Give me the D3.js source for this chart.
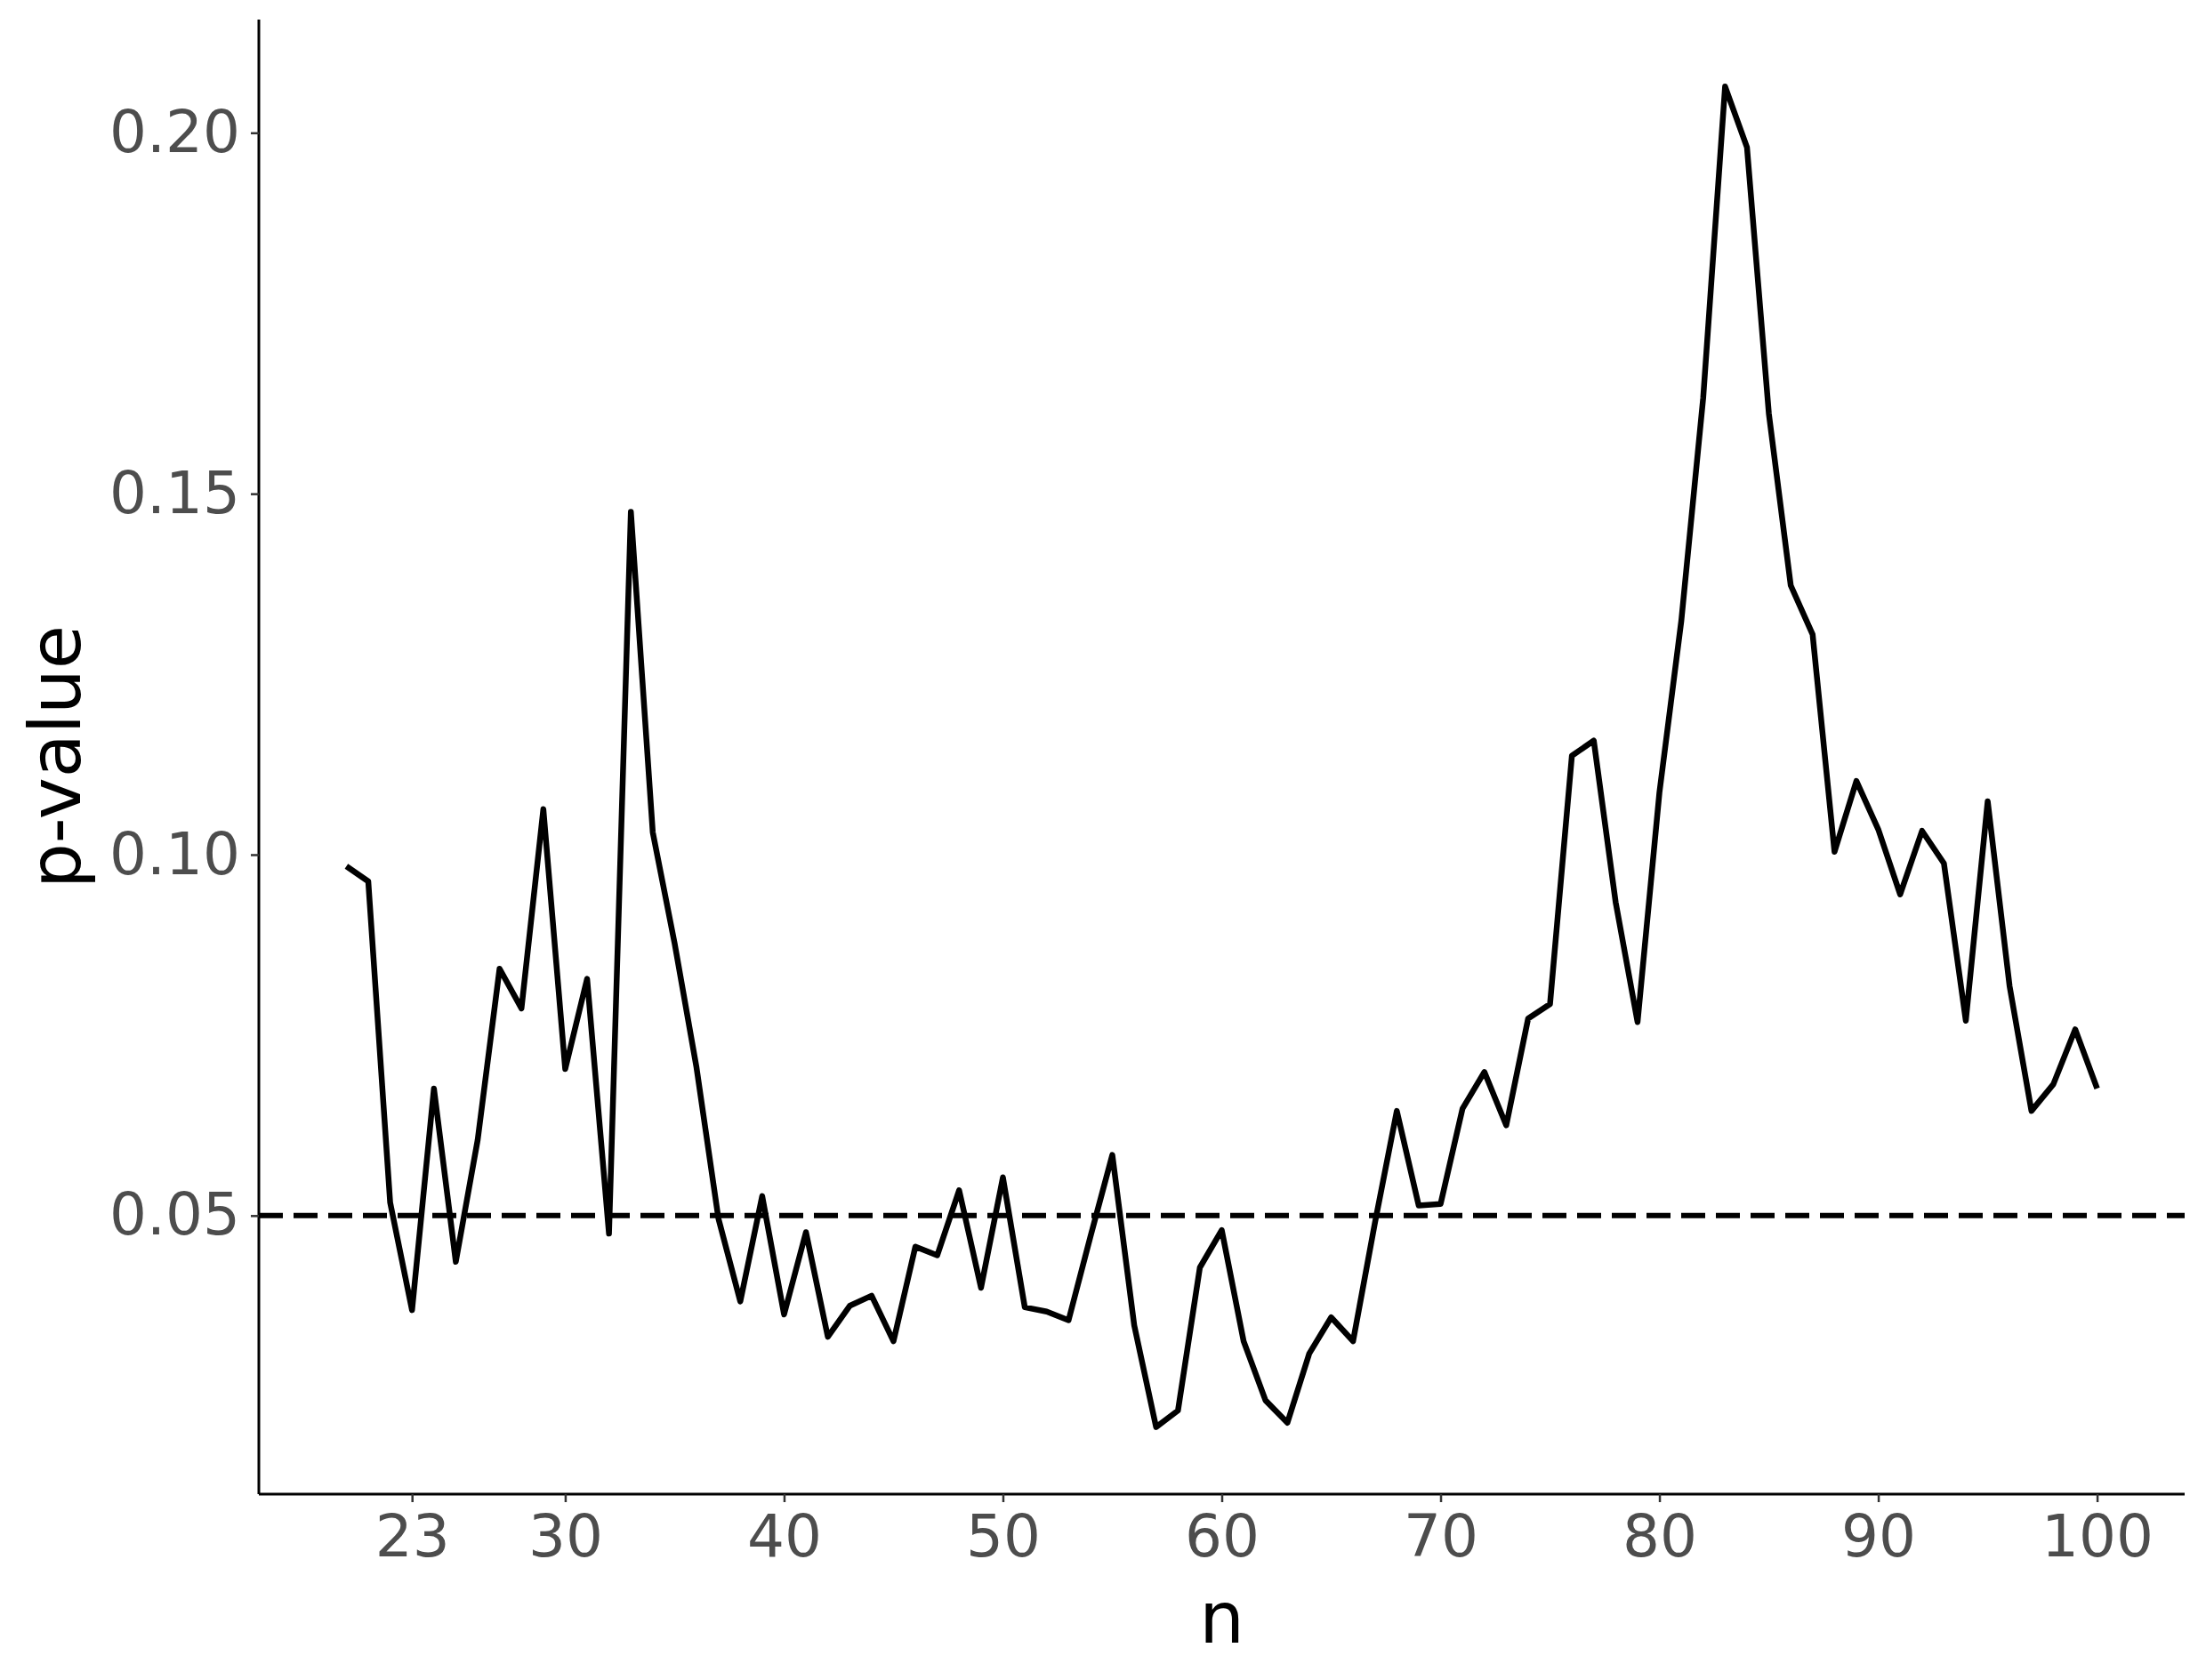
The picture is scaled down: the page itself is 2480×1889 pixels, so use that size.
<!DOCTYPE html>
<html>
<head>
<meta charset="utf-8">
<script src="https://cdn.jsdelivr.net/npm/d3@7"></script>
<style>
  html, body { margin: 0; padding: 0; background: #ffffff; }
  svg { display: block; }
  text { font-family: "DejaVu Sans", sans-serif; }
</style>
</head>
<body>
<svg id="chart" width="2480" height="1889"></svg>
<script>
// ---- Data ----
const nValues = d3.range(20, 101);
const pValues = [
  0.0984, 0.0963, 0.0518, 0.0369, 0.0676, 0.0436, 0.0605, 0.0842, 0.0787, 0.1063,
  0.0703, 0.0828, 0.0475, 0.1475, 0.1031, 0.0877, 0.0705, 0.0496, 0.0381, 0.0527,
  0.0363, 0.0477, 0.0332, 0.0375, 0.0389, 0.0326, 0.0457, 0.0445, 0.0535, 0.0400,
  0.0553, 0.0373, 0.0367, 0.0355, 0.0471, 0.0584, 0.0348, 0.0207, 0.0230, 0.0428,
  0.0480, 0.0326, 0.0244, 0.0213, 0.0309, 0.0359, 0.0326, 0.0490, 0.0645, 0.0514,
  0.0516, 0.0648, 0.0699, 0.0625, 0.0773, 0.0793, 0.1137, 0.1158, 0.0934, 0.0768,
  0.1086, 0.1324, 0.1633, 0.2064, 0.1980, 0.1611, 0.1373, 0.1305, 0.1004, 0.1102,
  0.1035, 0.0945, 0.1033, 0.0988, 0.0770, 0.1074, 0.0818, 0.0645, 0.0682, 0.0758,
  0.0676
];
const xTicks = [23, 30, 40, 50, 60, 70, 80, 90, 100];
const yTicks = [0.05, 0.10, 0.15, 0.20];
const threshold = 0.05;
const xTitle = "n";
const yTitle = "p-value";

// ---- Layout ----
const W = 2480, H = 1889;
const margin = { left: 291, right: 24, top: 22, bottom: 209 };
const plotW = W - margin.left - margin.right;
const plotH = H - margin.top - margin.bottom;

const data = nValues.map((n, i) => ({ n, p: pValues[i] }));

function padded(ext) {
  const r = ext[1] - ext[0];
  return [ext[0] - r * 0.05, ext[1] + r * 0.05];
}

const x = d3.scaleLinear()
  .domain(padded(d3.extent(nValues)))
  .range([margin.left, margin.left + plotW]);
const y = d3.scaleLinear()
  .domain(padded(d3.extent(pValues)))
  .range([margin.top + plotH, margin.top]);

const svg = d3.select("#chart");

// threshold dashed line
svg.append("line")
  .attr("x1", margin.left).attr("x2", margin.left + plotW)
  .attr("y1", y(threshold)).attr("y2", y(threshold))
  .attr("stroke", "#000").attr("stroke-width", 6)
  .attr("stroke-dasharray", "27,12");

// data line
const line = d3.line().x(d => x(d.n)).y(d => y(d.p));
svg.append("path")
  .datum(data)
  .attr("d", line)
  .attr("fill", "none")
  .attr("stroke", "#000")
  .attr("stroke-width", 6.5)
  .attr("stroke-linejoin", "round")
  .attr("stroke-linecap", "butt");

// x axis
const xAxis = svg.append("g")
  .attr("transform", `translate(0,${margin.top + plotH})`)
  .call(d3.axisBottom(x).tickValues(xTicks).tickSize(9).tickPadding(14).tickSizeOuter(0));
xAxis.select(".domain").attr("stroke-width", 3).attr("d", `M${margin.left},0H${margin.left + plotW}`);
xAxis.selectAll(".tick line").attr("stroke", "#333333").attr("stroke-width", 2.5);
xAxis.selectAll(".tick text")
  .attr("fill", "#4D4D4D").attr("font-size", 66).attr("font-family", "DejaVu Sans");

// y axis
const yAxis = svg.append("g")
  .attr("transform", `translate(${margin.left},0)`)
  .call(d3.axisLeft(y).tickValues(yTicks).tickFormat(d3.format(".2f")).tickSize(9).tickPadding(12).tickSizeOuter(0));
yAxis.select(".domain").attr("stroke-width", 3).attr("d", `M0,${margin.top}V${margin.top + plotH}`);
yAxis.selectAll(".tick line").attr("stroke", "#333333").attr("stroke-width", 2.5);
yAxis.selectAll(".tick text")
  .attr("fill", "#4D4D4D").attr("font-size", 66).attr("font-family", "DejaVu Sans");

// axis titles
svg.append("text")
  .attr("x", margin.left + plotW / 2)
  .attr("y", 1847)
  .attr("text-anchor", "middle")
  .attr("font-size", 80)
  .attr("fill", "#000")
  .text(xTitle);

svg.append("text")
  .attr("transform", `translate(90,${margin.top + plotH / 2}) rotate(-90)`)
  .attr("text-anchor", "middle")
  .attr("font-size", 80)
  .attr("fill", "#000")
  .text(yTitle);
</script>
</body>
</html>
